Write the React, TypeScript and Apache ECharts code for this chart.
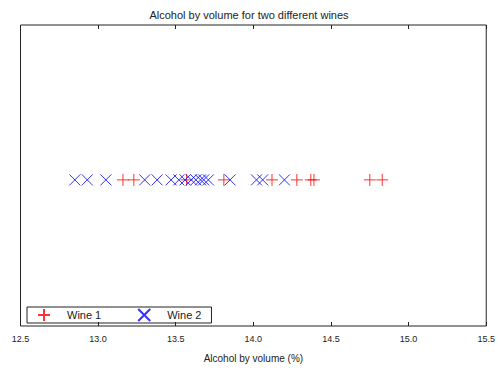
import React, { useEffect, useRef } from "react";
import * as echarts from "echarts";

const title = "Alcohol by volume for two different wines";
const xAxisName = "Alcohol by volume (%)";
const seriesNames = ["Wine 1", "Wine 2"];
const wine1 = [13.16, 13.23, 13.57, 13.81, 14.12, 14.28, 14.37, 14.39, 14.75, 14.83];
const wine2 = [12.85, 12.93, 13.05, 13.3, 13.38, 13.47, 13.52, 13.56, 13.6, 13.63, 13.66, 13.68, 13.71, 13.85, 14.02, 14.06, 14.2];
const xMin = 12.5;
const xMax = 15.5;
const xStep = 0.5;

const plusPath = "path://M0,5L10,5M5,0L5,10";
const crossPath = "path://M0,0L10,10M0,10L10,0";

export default function App() {
  const ref = useRef<HTMLDivElement>(null);
  useEffect(() => {
    if (!ref.current) return;
    const chart = echarts.init(ref.current, undefined, { renderer: "svg" });
    const font = "'Liberation Sans', Arial, sans-serif";
    chart.setOption({
      animation: false,
      backgroundColor: "#fff",
      textStyle: { fontFamily: font },
      title: {
        text: title,
        left: "center",
        top: 4,
        textStyle: { fontSize: 11, fontWeight: "normal", color: "#222", fontFamily: font },
      },
      grid: {
        left: 20.5,
        right: 10,
        top: 25,
        bottom: 44,
        show: true,
        borderColor: "#222",
        borderWidth: 1,
        backgroundColor: "transparent",
      },
      legend: {
        left: 27,
        top: 307,
        orient: "horizontal",
        borderColor: "#222",
        borderWidth: 1,
        padding: [1, 10, 1, 10],
        itemWidth: 12,
        itemHeight: 12,
        itemGap: 36,
        textStyle: { fontSize: 11, color: "#222", fontFamily: font, padding: [0, 0, 0, 12] },
        data: [
          { name: seriesNames[0], icon: plusPath },
          { name: seriesNames[1], icon: crossPath },
        ],
      },
      xAxis: [
        {
          type: "value",
          min: xMin,
          max: xMax,
          interval: xStep,
          position: "bottom",
          name: xAxisName,
          nameLocation: "middle",
          nameGap: 27,
          nameTextStyle: { fontSize: 10, color: "#222", fontFamily: font },
          axisLine: { show: false, onZero: false },
          axisTick: { show: true, inside: true, length: 4, lineStyle: { color: "#222" } },
          axisLabel: {
            fontSize: 9,
            color: "#222",
            margin: 8,
            fontFamily: font,
            formatter: (v: number) => v.toFixed(1),
          },
          splitLine: { show: false },
        },
        {
          type: "value",
          min: xMin,
          max: xMax,
          interval: xStep,
          position: "top",
          axisLine: { show: false, onZero: false },
          axisTick: { show: true, inside: true, length: 4, lineStyle: { color: "#222" } },
          axisLabel: { show: false },
          splitLine: { show: false },
        },
      ],
      yAxis: {
        type: "value",
        min: -1,
        max: 1.06,
        show: false,
        splitLine: { show: false },
      },
      series: [
        {
          name: seriesNames[0],
          type: "scatter",
          symbol: plusPath,
          symbolSize: 12,
          itemStyle: { color: "transparent", borderColor: "#ff0000", borderWidth: 1 },
          data: wine1.map((v) => [v, 0]),
        },
        {
          name: seriesNames[1],
          type: "scatter",
          symbol: crossPath,
          symbolSize: 11,
          itemStyle: { color: "transparent", borderColor: "#0000ff", borderWidth: 1 },
          data: wine2.map((v) => [v, 0]),
        },
      ],
    });
    return () => chart.dispose();
  }, []);
  return (
    <div
      ref={ref}
      style={{ position: "fixed", left: 0, top: 0, width: 498, height: 370 }}
    />
  );
}
